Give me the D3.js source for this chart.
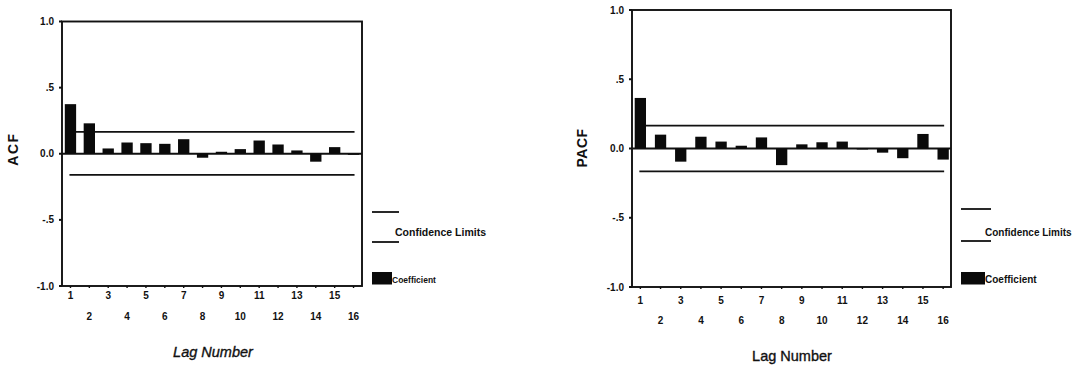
<!DOCTYPE html>
<html>
<head>
<meta charset="utf-8">
<script src="https://cdn.jsdelivr.net/npm/d3@7"></script>
<style>
  body { margin: 0; background: #fff; }
  svg { display: block; font-family: "Liberation Sans", Arial, sans-serif; }
</style>
</head>
<body>
<div id="chart"></div>
<script>
// lags and coefficients
const lags = d3.range(1, 17);
const acfValues = [0.375, 0.23, 0.04, 0.085, 0.08, 0.075, 0.11, -0.03, 0.015, 0.035, 0.10, 0.07, 0.025, -0.06, 0.05, -0.008];
const pacfValues = [0.365, 0.10, -0.095, 0.085, 0.05, 0.02, 0.08, -0.12, 0.03, 0.045, 0.05, -0.004, -0.03, -0.07, 0.105, -0.08];
const acfLimits = [0.165, -0.16];
const pacfLimits = [0.165, -0.165];
const yTicks = [1, 0.5, 0, -0.5, -1];
const yTickLabels = ["1.0", ".5", "0.0", "-.5", "-1.0"];

const svg = d3.select("#chart").append("svg")
  .attr("width", 1081)
  .attr("height", 366);

function drawPanel(cfg) {
  const g = svg.append("g");

  const x = d3.scaleBand().domain(lags).range(cfg.xRange).paddingInner(cfg.pad);
  const y = d3.scaleLinear().domain([-1, 1]).range(cfg.yRange);
  const cx = d => x(d) + x.bandwidth() / 2;

  // frame
  g.append("rect")
    .attr("x", cfg.frame[0])
    .attr("y", y(1))
    .attr("width", cfg.frame[1] - cfg.frame[0])
    .attr("height", y(-1) - y(1))
    .attr("fill", "none")
    .attr("stroke", "#111")
    .attr("stroke-width", 1.9);

  // y axis ticks + labels
  g.selectAll(".ytick")
    .data(yTicks)
    .enter().append("line")
    .attr("x1", cfg.frame[0] - 3)
    .attr("x2", cfg.frame[0])
    .attr("y1", d => y(d))
    .attr("y2", d => y(d))
    .attr("stroke", "#111")
    .attr("stroke-width", 2);

  g.selectAll(".ylab")
    .data(yTicks)
    .enter().append("text")
    .attr("x", cfg.frame[0] - 8)
    .attr("y", d => y(d) + 3.5)
    .attr("text-anchor", "end")
    .attr("font-size", 10)
    .attr("font-weight", "bold")
    .attr("fill", "#111")
    .text((d, i) => yTickLabels[i]);

  // bottom ticks
  g.selectAll(".xtick")
    .data(lags)
    .enter().append("line")
    .attr("x1", d => cx(d))
    .attr("x2", d => cx(d))
    .attr("y1", y(-1))
    .attr("y2", y(-1) + 2)
    .attr("stroke", "#111")
    .attr("stroke-width", 1.4);

  g.selectAll(".xlab")
    .data(lags)
    .enter().append("text")
    .attr("x", d => cx(d))
    .attr("y", d => d % 2 === 1 ? cfg.oddBase : cfg.evenBase)
    .attr("text-anchor", "middle")
    .attr("font-size", 10)
    .attr("font-weight", "bold")
    .attr("fill", "#111")
    .text(d => d);

  // zero line
  g.append("line")
    .attr("x1", cfg.frame[0])
    .attr("x2", cfg.frame[1])
    .attr("y1", y(0))
    .attr("y2", y(0))
    .attr("stroke", "#111")
    .attr("stroke-width", 1.9);

  // confidence limits
  g.selectAll(".limit")
    .data(cfg.limits)
    .enter().append("line")
    .attr("x1", cx(1) - 1)
    .attr("x2", cx(16) + 1)
    .attr("y1", d => y(d))
    .attr("y2", d => y(d))
    .attr("stroke", "#111")
    .attr("stroke-width", 1.8);

  // bars
  g.selectAll(".bar")
    .data(cfg.values)
    .enter().append("rect")
    .attr("x", (d, i) => x(lags[i]))
    .attr("y", d => y(Math.max(0, d)))
    .attr("width", x.bandwidth())
    .attr("height", d => Math.max(1, Math.abs(y(d) - y(0))))
    .attr("fill", "#0a0a0a");

  // axis titles
  g.append("text")
    .attr("transform", `translate(${cfg.yTitle[0]},${cfg.yTitle[1]}) rotate(-90)`)
    .attr("text-anchor", "middle")
    .attr("font-size", 14)
    .attr("font-weight", "bold")
    .attr("letter-spacing", cfg.yTitleSpacing)
    .attr("fill", "#111")
    .text(cfg.yTitleText);

  g.append("text")
    .attr("x", cfg.xTitle[0])
    .attr("y", cfg.xTitle[1])
    .attr("text-anchor", "middle")
    .attr("font-size", 14.5)
    .attr("font-style", cfg.xTitleStyle)
    .attr("stroke", "#111")
    .attr("stroke-width", 0.35)
    .attr("fill", "#111")
    .text("Lag Number");

  // legend
  const lg = cfg.legend;
  g.selectAll(".leg-line")
    .data([lg.upper, lg.lower])
    .enter().append("line")
    .attr("x1", lg.x)
    .attr("x2", lg.x + lg.lineLen)
    .attr("y1", d => d)
    .attr("y2", d => d)
    .attr("stroke", "#111")
    .attr("stroke-width", 1.8);

  g.append("text")
    .attr("x", lg.textX)
    .attr("y", 235.5)
    .attr("font-size", lg.confSize)
    .attr("font-weight", "bold")
    .attr("fill", "#111")
    .text("Confidence Limits");

  g.append("rect")
    .attr("x", lg.x)
    .attr("y", 272)
    .attr("width", lg.swatchW)
    .attr("height", 12.5)
    .attr("fill", "#0a0a0a");

  g.append("text")
    .attr("x", lg.x + lg.swatchW)
    .attr("y", 282.5)
    .attr("font-size", lg.coefSize)
    .attr("font-weight", "bold")
    .attr("fill", "#111")
    .text("Coefficient");
}

drawPanel({
  values: acfValues,
  limits: acfLimits,
  xRange: [64.8, 359.2],
  pad: 0.4,
  yRange: [286, 21.5],
  frame: [62, 362],
  oddBase: 298.5,
  evenBase: 319.5,
  yTitle: [18, 149],
  yTitleText: "ACF",
  yTitleSpacing: 1.5,
  xTitle: [213, 357],
  xTitleStyle: "italic",
  legend: { x: 372, lineLen: 27, upper: 212, lower: 242, textX: 395, swatchW: 20, confSize: 10.5, coefSize: 8.5 }
});

drawPanel({
  values: pacfValues,
  limits: pacfLimits,
  xRange: [634.7, 948.8],
  pad: 0.44,
  yRange: [287, 10],
  frame: [632, 951],
  oddBase: 304,
  evenBase: 324,
  yTitle: [587, 148],
  yTitleText: "PACF",
  yTitleSpacing: 0.5,
  xTitle: [792, 361],
  xTitleStyle: "normal",
  legend: { x: 961, lineLen: 30, upper: 209, lower: 241, textX: 985, swatchW: 24, confSize: 10, coefSize: 10 }
});
</script>
</body>
</html>
